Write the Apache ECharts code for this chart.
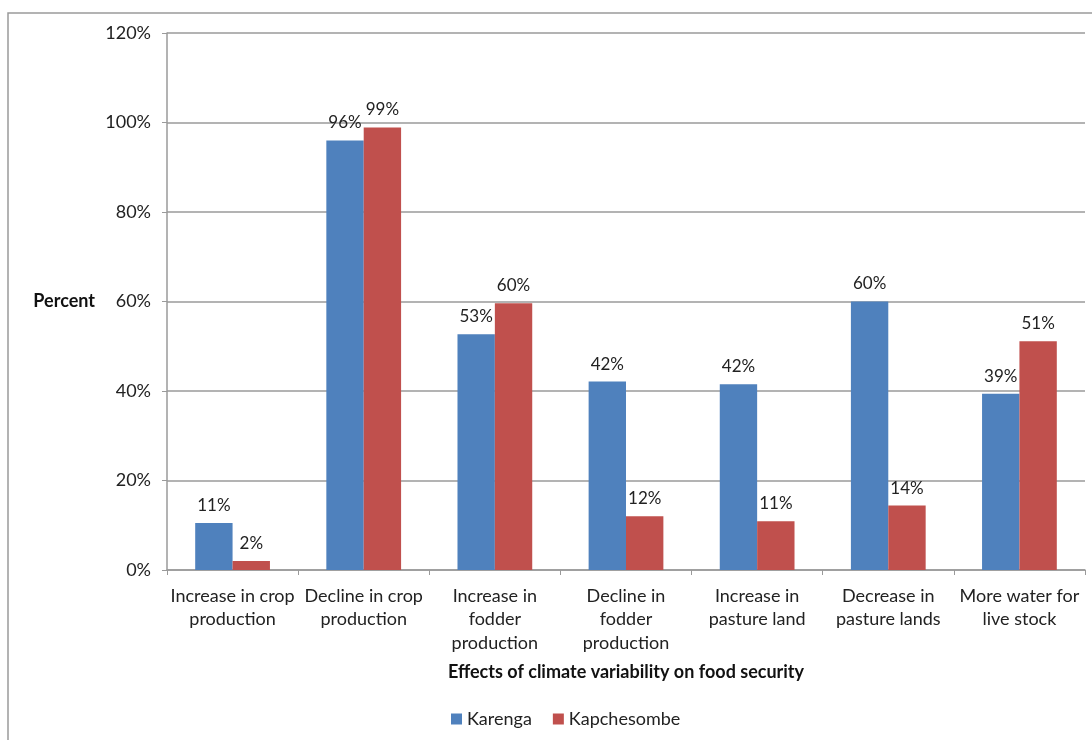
<!DOCTYPE html>
<html lang="en">
<head>
    <meta charset="UTF-8">
    <title>Effects of climate variability on food security</title>
    <style>
        html, body { margin: 0; padding: 0; background: #fff; }
        #chart { width: 1092px; height: 740px; }
    </style>
</head>
<body>
    <div id="chart"></div>
    <script src="https://cdn.jsdelivr.net/npm/echarts@6/dist/echarts.min.js"></script>
    <script>
        // categories on the x axis
        const categories = [
            'Increase in crop\nproduction',
            'Decline in crop\nproduction',
            'Increase in\nfodder\nproduction',
            'Decline in\nfodder\nproduction',
            'Increase in\npasture land',
            'Decrease in\npasture lands',
            'More water for\nlive stock'
        ];
        // percent values
        const karenga = [10.5, 96, 52.7, 42.1, 41.5, 60, 39.4];
        const kapchesombe = [2, 98.9, 59.6, 12, 10.9, 14.4, 51.1];
        const yTicks = [0, 20, 40, 60, 80, 100, 120];

        const font = 'Lato, "Open Sans", sans-serif';
        const chart = echarts.init(document.getElementById('chart'));

        const labelOpt = {
            show: true,
            position: 'top',
            distance: 9,
            color: '#222',
            fontSize: 17,
            fontFamily: font,
            formatter: p => Math.round(p.value) + '%'
        };

        chart.setOption({
            animation: false,
            graphic: [{
                type: 'rect',
                shape: { x: 8, y: 13, width: 1200, height: 900 },
                style: { fill: 'none', stroke: '#9a9a9a', lineWidth: 1.5 },
                silent: true
            }],
            legend: {
                bottom: 7,
                left: 446,
                itemWidth: 11,
                itemHeight: 11,
                itemGap: 21,
                icon: 'rect',
                textStyle: { fontSize: 18, color: '#222', fontFamily: font },
                data: ['Karenga', 'Kapchesombe']
            },
            grid: { left: 167, right: 7, top: 33, bottom: 170 },
            xAxis: {
                type: 'category',
                data: categories,
                name: 'Effects of climate variability on food security',
                nameLocation: 'middle',
                nameGap: 93,
                nameTextStyle: { fontSize: 18, fontWeight: 'bold', color: '#111', fontFamily: font },
                axisLine: { lineStyle: { color: '#9a9a9a', width: 1.5 } },
                axisTick: { show: true, length: 5, lineStyle: { color: '#9a9a9a' } },
                axisLabel: {
                    interval: 0,
                    margin: 14,
                    fontSize: 18,
                    lineHeight: 23.5,
                    color: '#222',
                    fontFamily: font
                }
            },
            yAxis: {
                type: 'value',
                min: yTicks[0],
                max: yTicks[yTicks.length - 1],
                interval: 20,
                name: 'Percent',
                nameLocation: 'middle',
                nameRotate: 0,
                nameGap: 72,
                nameTextStyle: { fontSize: 18, fontWeight: 'bold', color: '#111', fontFamily: font },
                axisLine: { show: true, lineStyle: { color: '#9a9a9a', width: 1.5 } },
                axisTick: { show: true, length: 5, lineStyle: { color: '#9a9a9a' } },
                splitLine: { lineStyle: { color: '#9a9a9a', width: 1.5 } },
                axisLabel: {
                    margin: 16,
                    fontSize: 18,
                    color: '#222',
                    fontFamily: font,
                    formatter: v => v + '%'
                }
            },
            series: [
                {
                    name: 'Karenga',
                    type: 'bar',
                    data: karenga,
                    barGap: '0%',
                    barCategoryGap: '43%',
                    itemStyle: { color: '#4F81BD' },
                    label: labelOpt
                },
                {
                    name: 'Kapchesombe',
                    type: 'bar',
                    data: kapchesombe,
                    itemStyle: { color: '#C0504D' },
                    label: labelOpt
                }
            ]
        });
    </script>
</body>
</html>
